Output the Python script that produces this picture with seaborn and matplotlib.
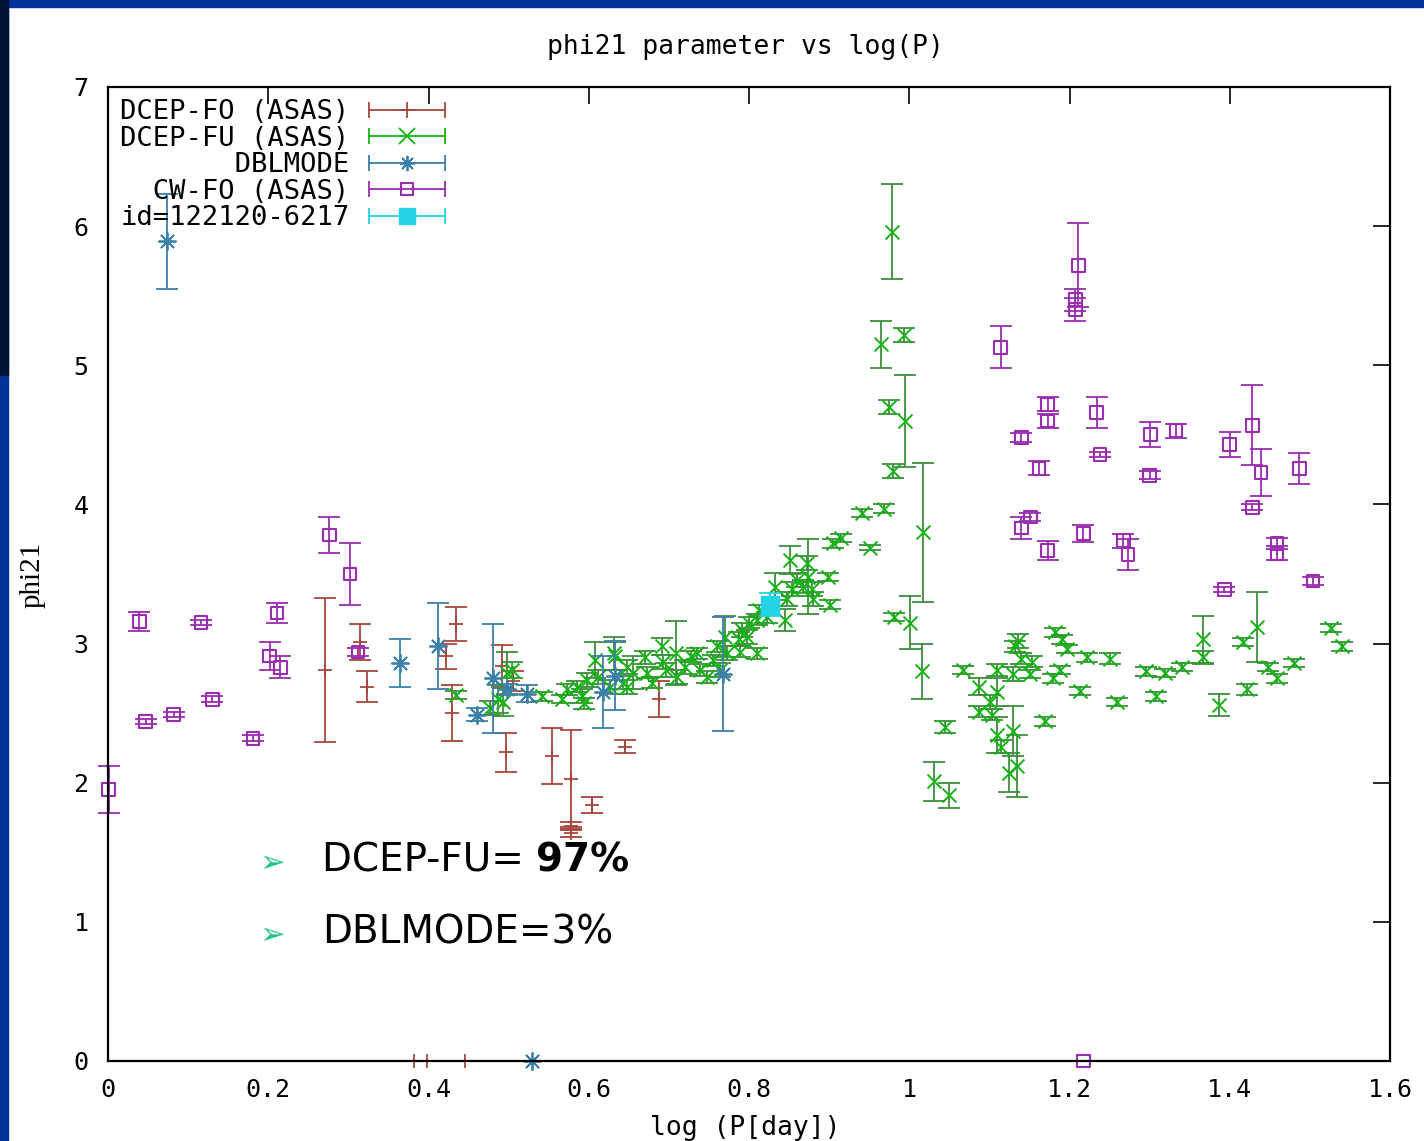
import numpy as np
import matplotlib
matplotlib.use("Agg")
import matplotlib.pyplot as plt
import seaborn as sns
from matplotlib.lines import Line2D
from matplotlib.legend_handler import HandlerLine2D, HandlerTuple
from matplotlib.patches import Rectangle

# ---------------- data ----------------
fo_x = [0.271, 0.315, 0.323, 0.434, 0.422, 0.429, 0.497, 0.492, 0.506, 0.554,
        0.578, 0.578, 0.578, 0.604, 0.645, 0.688, 0.382, 0.398, 0.445]
fo_y = [2.81, 3.01, 2.69, 3.14, 2.91, 2.50, 2.22, 2.84, 2.73, 2.19,
        2.03, 1.69, 1.64, 1.84, 2.26, 2.60, 0.0, 0.0, 0.0]
fo_e = [0.52, 0.13, 0.11, 0.12, 0.09, 0.20, 0.14, 0.15, 0.07, 0.20,
        0.35, 0.03, 0.03, 0.06, 0.05, 0.13, 0.0, 0.0, 0.0]

fu_x = [0.434, 0.477, 0.487, 0.498, 0.504, 0.493, 0.542, 0.567, 0.573, 0.585,
        0.592, 0.598, 0.594, 0.608, 0.612, 0.633, 0.627, 0.643, 0.648, 0.632,
        0.655, 0.648, 0.670, 0.673, 0.679, 0.691, 0.693, 0.697, 0.709, 0.710,
        0.720, 0.727, 0.735, 0.739, 0.748, 0.755, 0.760, 0.764, 0.770, 0.773,
        0.787, 0.791, 0.797, 0.789, 0.810, 0.800, 0.810, 0.812, 0.822, 0.833,
        0.845, 0.848, 0.854, 0.851, 0.860, 0.868, 0.873, 0.874, 0.879, 0.880,
        0.899, 0.901, 0.905, 0.915, 0.941, 0.951, 0.969,
        0.979, 0.965, 0.993, 0.975, 0.995, 0.980, 1.017, 0.981, 1.001, 1.016,
        1.067, 1.045, 1.031, 1.050, 1.087, 1.110, 1.087, 1.101, 1.110, 1.103,
        1.110, 1.114, 1.130, 1.124, 1.135, 1.130, 1.136, 1.132, 1.139, 1.153,
        1.151, 1.170, 1.182, 1.191, 1.197, 1.188, 1.180, 1.213, 1.222, 1.251,
        1.259, 1.295, 1.308, 1.319, 1.341, 1.366, 1.366, 1.386, 1.416, 1.422,
        1.434, 1.448, 1.459, 1.480, 1.526, 1.540]
fu_y = [2.63, 2.54, 2.60, 2.79, 2.81, 2.58, 2.62, 2.60, 2.67, 2.69,
        2.62, 2.74, 2.57, 2.88, 2.76, 2.91, 2.69, 2.72, 2.83, 2.93,
        2.79, 2.69, 2.90, 2.79, 2.72, 2.98, 2.87, 2.81, 2.93, 2.76,
        2.83, 2.91, 2.93, 2.81, 2.76, 2.88, 2.98, 2.81, 3.05, 2.93,
        3.03, 3.10, 3.05, 2.94, 2.93, 3.15, 3.17, 3.24, 3.19, 3.41,
        3.17, 3.32, 3.39, 3.60, 3.46, 3.41, 3.58, 3.48, 3.39, 3.32,
        3.48, 3.28, 3.72, 3.76, 3.94, 3.69, 3.97,
        5.96, 5.15, 5.22, 4.70, 4.60, 4.24, 3.80, 3.19, 3.15, 2.80,
        2.81, 2.40, 2.01, 1.91, 2.69, 2.81, 2.51, 2.58, 2.65, 2.49,
        2.34, 2.26, 2.37, 2.07, 2.12, 2.78, 3.02, 2.98, 2.89, 2.87,
        2.78, 2.44, 3.08, 3.03, 2.96, 2.81, 2.75, 2.66, 2.90, 2.89,
        2.58, 2.80, 2.62, 2.79, 2.83, 3.03, 2.90, 2.56, 3.01, 2.67,
        3.12, 2.83, 2.75, 2.86, 3.11, 2.98]
fu_e = [0.03, 0.05, 0.10, 0.15, 0.06, 0.10, 0.03, 0.03, 0.04, 0.04,
        0.05, 0.05, 0.04, 0.13, 0.05, 0.10, 0.05, 0.05, 0.05, 0.12,
        0.12, 0.05, 0.05, 0.04, 0.04, 0.06, 0.05, 0.05, 0.23, 0.05,
        0.05, 0.04, 0.04, 0.04, 0.04, 0.04, 0.04, 0.05, 0.15, 0.05,
        0.05, 0.05, 0.05, 0.04, 0.04, 0.04, 0.04, 0.04, 0.04, 0.10,
        0.08, 0.05, 0.05, 0.10, 0.05, 0.05, 0.05, 0.27, 0.05, 0.05,
        0.03, 0.03, 0.03, 0.03, 0.03, 0.02, 0.03,
        0.34, 0.17, 0.05, 0.05, 0.33, 0.05, 0.50, 0.03, 0.19, 0.20,
        0.03, 0.04, 0.14, 0.09, 0.06, 0.04, 0.04, 0.05, 0.10, 0.04,
        0.13, 0.05, 0.18, 0.14, 0.22, 0.05, 0.05, 0.04, 0.04, 0.04,
        0.03, 0.03, 0.03, 0.03, 0.03, 0.03, 0.03, 0.03, 0.03, 0.04,
        0.03, 0.03, 0.03, 0.03, 0.03, 0.17, 0.05, 0.08, 0.03, 0.04,
        0.25, 0.03, 0.03, 0.03, 0.03, 0.03]

dbl_x = [0.074, 0.365, 0.412, 0.461, 0.481, 0.498, 0.523, 0.618, 0.633, 0.767, 0.529]
dbl_y = [5.89, 2.86, 2.98, 2.49, 2.75, 2.67, 2.64, 2.65, 2.77, 2.78, 0.0]
dbl_e = [0.34, 0.17, 0.31, 0.05, 0.39, 0.04, 0.06, 0.26, 0.25, 0.41, 0.0]

cw_x = [0.001, 0.039, 0.047, 0.082, 0.116, 0.130, 0.181, 0.202, 0.215, 0.211,
        0.276, 0.302, 0.312, 1.217, 1.211, 1.207, 1.207, 1.114, 1.140, 1.173,
        1.173, 1.162, 1.234, 1.238, 1.301, 1.333, 1.300, 1.400, 1.428, 1.439,
        1.487, 1.428, 1.459, 1.459, 1.504, 1.393, 1.140, 1.151, 1.173, 1.217,
        1.267, 1.273]
cw_y = [1.95, 3.16, 2.44, 2.49, 3.15, 2.60, 2.32, 2.91, 2.83, 3.22,
        3.78, 3.50, 2.94, 0.0, 5.72, 5.47, 5.40, 5.13, 4.48, 4.72,
        4.60, 4.26, 4.66, 4.36, 4.50, 4.53, 4.21, 4.43, 4.57, 4.23,
        4.26, 3.98, 3.72, 3.65, 3.45, 3.39, 3.83, 3.91, 3.67, 3.79,
        3.74, 3.64]
cw_e = [0.17, 0.07, 0.02, 0.02, 0.02, 0.02, 0.02, 0.10, 0.08, 0.07,
        0.13, 0.22, 0.03, 0.0, 0.30, 0.08, 0.08, 0.15, 0.03, 0.05,
        0.05, 0.05, 0.11, 0.02, 0.09, 0.05, 0.03, 0.09, 0.29, 0.17,
        0.11, 0.02, 0.04, 0.05, 0.03, 0.02, 0.08, 0.03, 0.07, 0.06,
        0.05, 0.11]

id_x = [0.826]
id_y = [3.28]
id_e = [0.08]

series_labels = ["DCEP-FO (ASAS)", "DCEP-FU (ASAS)", "DBLMODE", "CW-FO (ASAS)", "id=122120-6217"]
x_ticks = [0, 0.2, 0.4, 0.6, 0.8, 1.0, 1.2, 1.4, 1.6]
x_tick_labels = ["0", "0.2", "0.4", "0.6", "0.8", "1", "1.2", "1.4", "1.6"]
y_ticks = [0, 1, 2, 3, 4, 5, 6, 7]
y_tick_labels = ["0", "1", "2", "3", "4", "5", "6", "7"]

# ---------------- styling ----------------
sns.set_theme(style="white")
plt.rcParams["font.family"] = ["DejaVu Sans Mono", "DejaVu Sans"]

W, H = 1424, 1141
fig = plt.figure(figsize=(W / 100, H / 100), dpi=100, facecolor="white")

# slide border decorations
fig.patches.append(Rectangle((0, 1 - 7 / H), 1, 7 / H, transform=fig.transFigure,
                             color="#003399", zorder=0))
fig.patches.append(Rectangle((0, 0), 8 / W, 1, transform=fig.transFigure,
                             color="#003399", zorder=0))
fig.patches.append(Rectangle((0, 1 - 375 / H), 8 / W, 375 / H, transform=fig.transFigure,
                             color="#001238", zorder=0))

ax = fig.add_axes([108 / W, 1 - 1061 / H, (1390 - 108) / W, (1061 - 87) / H])
ax.set_facecolor("white")

col_fo = "#a8463c"
col_fu_bar = "#3d8f3d"
col_fu = "#12b412"
col_dbl = "#3a80aa"
col_cw = "#9a2cb0"
col_id = "#22d4e6"

def draw(x, y, e, ecol, mcol, marker, s, lw, z, hollow=False):
    eb = ax.errorbar(x, y, yerr=e, fmt="none", ecolor=ecol, elinewidth=1.3,
                     capsize=8, capthick=1.3, zorder=z)
    for art in eb.lines[1] + eb.lines[2]:
        art.set_clip_on(False)
    if hollow:
        sns.scatterplot(x=x, y=y, ax=ax, marker=marker, s=s, facecolor="none",
                        edgecolor=mcol, linewidth=lw, zorder=z + 0.5, legend=False,
                        clip_on=False)
    else:
        sns.scatterplot(x=x, y=y, ax=ax, marker=marker, s=s, color=mcol,
                        edgecolor=mcol, linewidth=lw, zorder=z + 0.5, legend=False,
                        clip_on=False)

draw(fo_x, fo_y, fo_e, col_fo, col_fo, "+", 110, 1.3, 2)
draw(fu_x, fu_y, fu_e, col_fu_bar, col_fu, "x", 100, 1.4, 3)
draw(dbl_x, dbl_y, dbl_e, col_dbl, col_dbl, (8, 2, 0), 150, 1.3, 4)
draw(cw_x, cw_y, cw_e, col_cw, col_cw, "s", 85, 1.5, 5, hollow=True)
draw(id_x, id_y, id_e, col_id, col_id, "s", 150, 1.0, 6)

ax.set_xlim(0, 1.6)
ax.set_ylim(0, 7)
ax.set_xticks(x_ticks)
ax.set_xticklabels(x_tick_labels)
ax.set_yticks(y_ticks)
ax.set_yticklabels(y_tick_labels)
ax.set_xlabel("")
ax.set_ylabel("")
ax.tick_params(axis="both", direction="in", length=12, width=1.2, color="black",
               top=True, right=True, labelsize=18, labelcolor="black")
ax.tick_params(axis="x", pad=12)
ax.tick_params(axis="y", pad=14)
for sp in ax.spines.values():
    sp.set_visible(True)
    sp.set_color("black")
    sp.set_linewidth(1.6)
    sp.set_zorder(10)

# ---------------- legend ----------------
colors = [col_fo, col_fu, col_dbl, col_cw, col_id]
markers = ["+", "x", (8, 2, 0), "s", "s"]
handles = []
hmap = {}
for c, m in zip(colors, markers):
    ln = Line2D([], [], color=c, lw=1.3, marker="|", markersize=12, markeredgewidth=1.3)
    if m == "s" and c == col_cw:
        mk = Line2D([], [], ls="none", marker="s", markersize=9, markerfacecolor="none",
                    markeredgecolor=c, markeredgewidth=1.5)
    elif m == "s":
        mk = Line2D([], [], ls="none", marker="s", markersize=11, color=c)
    else:
        mk = Line2D([], [], ls="none", marker=m, markersize=11, color=c, markeredgewidth=1.3)
    hmap[ln] = HandlerLine2D(numpoints=2, marker_pad=0)
    hmap[mk] = HandlerLine2D(numpoints=1)
    handles.append((ln, mk))
hmap[tuple] = HandlerTuple(ndivide=1, pad=0)
width = max(len(s) for s in series_labels)
labels = [s.rjust(width) for s in series_labels]
leg = ax.legend(handles, labels, handler_map=hmap, loc="upper left",
                bbox_to_anchor=(0.0, 1.0), frameon=False, markerfirst=False,
                fontsize=19.5, handlelength=2.8, handletextpad=0.72,
                labelspacing=0.02, borderpad=0.25, borderaxespad=0.2)
leg.set_zorder(20)
for t in leg.get_texts():
    t.set_color("black")

# ---------------- titles / labels ----------------
fig.text(745 / W, 1 - 47 / H, "phi21 parameter vs log(P)", ha="center", va="center",
         fontsize=19, color="black")
fig.text(745 / W, 1 - 1128 / H, "log (P[day])", ha="center", va="center",
         fontsize=19, color="black")
fig.text(33 / W, 1 - 575 / H, "phi21", ha="center", va="center", rotation=90,
         fontsize=21, color="black", family=["Liberation Serif", "DejaVu Serif"])

# ---------------- slide annotations ----------------
for yy in (863, 935):
    fig.text(272 / W, 1 - yy / H, "\u27a2", ha="center", va="center", fontsize=22,
             color="#1dc48e", family=["DejaVu Sans"])
t1 = fig.text(322 / W, 1 - 860 / H, "DCEP-FU= ", ha="left", va="center",
              fontsize=28, color="black", family=["DejaVu Sans"])
ax.annotate("97%", xy=(1, 0), xycoords=t1, ha="left", va="bottom", fontsize=28,
            fontweight="bold", color="black", family=["DejaVu Sans"],
            annotation_clip=False)
fig.text(322 / W, 1 - 932 / H, "DBLMODE=3%", ha="left", va="center",
         fontsize=28, color="black", family=["DejaVu Sans"])

fig.savefig("out.png", dpi=100, facecolor="white")
